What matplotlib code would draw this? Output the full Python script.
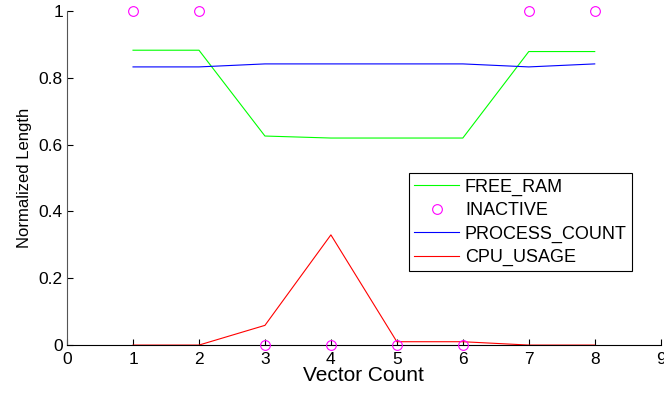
import matplotlib
matplotlib.use('Agg')
import matplotlib.pyplot as plt

plt.rcParams['font.family'] = ['Liberation Sans', 'DejaVu Sans']

# values
vectors = [1, 2, 3, 4, 5, 6, 7, 8]
free_ram = [0.883, 0.883, 0.626, 0.620, 0.620, 0.620, 0.879, 0.879]
inactive = [1, 1, 0, 0, 0, 0, 1, 1]
process_count = [0.833, 0.833, 0.842, 0.842, 0.842, 0.842, 0.833, 0.842]
cpu_usage = [0.0, 0.0, 0.059, 0.330, 0.010, 0.010, 0.0, 0.0]

fig = plt.figure(figsize=(6.64, 3.98), dpi=100)
ax = fig.add_axes([0.101, 0.133, 0.894, 0.839])

ax.plot(vectors, free_ram, color=(0, 1, 0), linewidth=0.8, label='FREE_RAM')
ax.plot(vectors, inactive, linestyle='none', marker='o', markersize=7,
        markerfacecolor='none', markeredgecolor=(1, 0, 1), markeredgewidth=0.8,
        label='INACTIVE', clip_on=False, zorder=5)
ax.plot(vectors, process_count, color=(0, 0, 1), linewidth=0.8, label='PROCESS_COUNT')
ax.plot(vectors, cpu_usage, color=(1, 0, 0), linewidth=0.8, label='CPU_USAGE')

ax.set_xlim(0, 9)
ax.set_ylim(0, 1)
ax.set_xticks(range(10))
ax.set_yticks([0, 0.2, 0.4, 0.6, 0.8, 1])
ax.set_yticklabels(['0', '0.2', '0.4', '0.6', '0.8', '1'])
ax.tick_params(direction='in', length=4, width=0.8, labelsize=12.5)
ax.tick_params(axis='x', pad=5)
ax.tick_params(axis='y', pad=3)

ax.spines['top'].set_visible(False)
ax.spines['right'].set_visible(False)
ax.spines['left'].set_color('#555555')
ax.spines['left'].set_linewidth(0.8)
ax.spines['bottom'].set_linewidth(0.8)

ax.set_xlabel('Vector Count', fontsize=15, labelpad=-1)
ax.set_ylabel('Normalized Length', fontsize=12, labelpad=5)

leg = ax.legend(loc='upper left', bbox_to_anchor=(0.576, 0.515), fontsize=13,
                frameon=True, fancybox=False, edgecolor='black', framealpha=1,
                handlelength=2.45, handletextpad=0.35, borderpad=0.3,
                labelspacing=0.35, borderaxespad=0)
leg.get_frame().set_linewidth(0.8)

fig.savefig('out.png', dpi=100)
